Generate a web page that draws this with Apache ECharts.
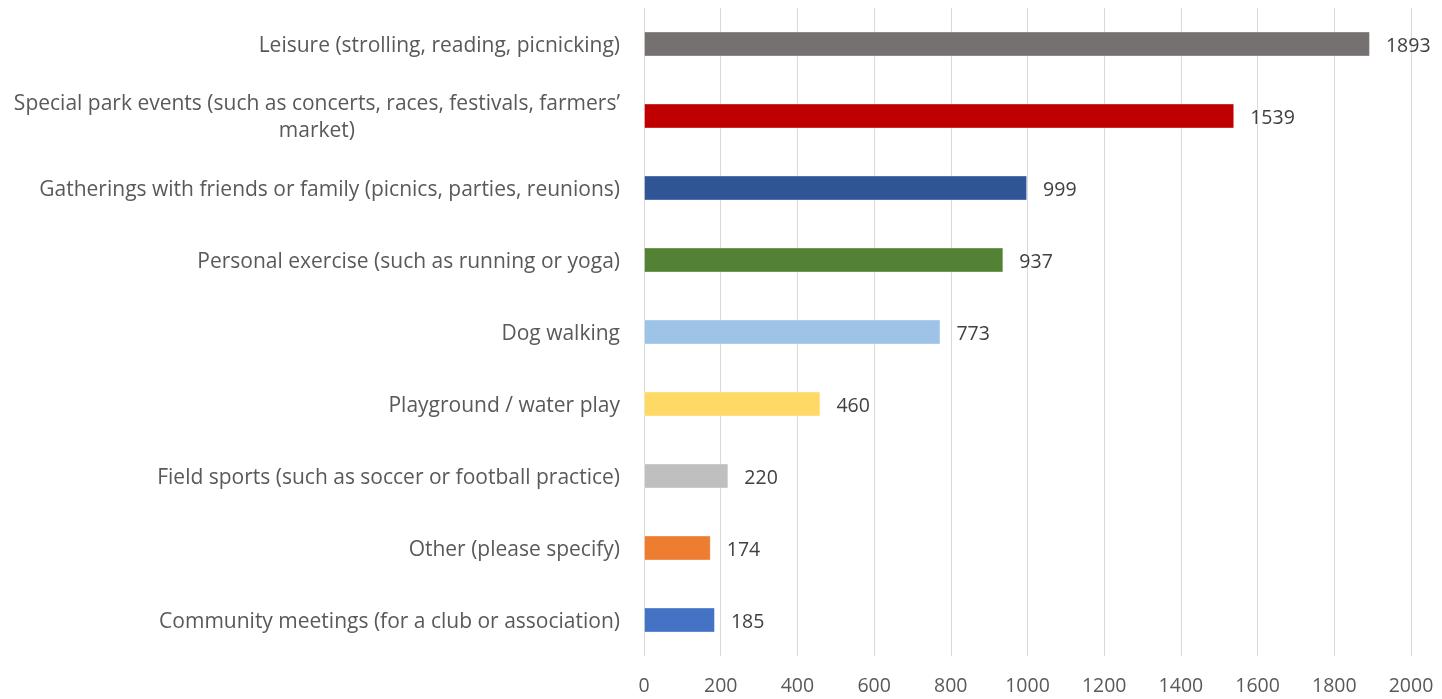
<!DOCTYPE html>
<html><head><meta charset="utf-8">
<script src="https://cdn.jsdelivr.net/npm/echarts@6/dist/echarts.min.js"></script>
<style>html,body{margin:0;padding:0;background:#fff}#c{width:1442px;height:699px}</style>
</head><body><div id="c"></div>
<script>
const categories = [
  'Leisure (strolling, reading, picnicking)',
  'Special park events (such as concerts, races, festivals, farmers’\nmarket)',
  'Gatherings with friends or family (picnics, parties, reunions)',
  'Personal exercise (such as running or yoga)',
  'Dog walking',
  'Playground / water play',
  'Field sports (such as soccer or football practice)',
  'Other (please specify)',
  'Community meetings (for a club or association)'
];
const values = [1893, 1539, 999, 937, 773, 460, 220, 174, 185];
const colors = ['#767171', '#C00000', '#2F5597', '#548235', '#9DC3E6', '#FFD966', '#BFBFBF', '#ED7D31', '#4472C4'];
const xTicks = [0, 200, 400, 600, 800, 1000, 1200, 1400, 1600, 1800, 2000];

const FONT = 'Open Sans';
const FS = 21;
const NS = 19.5;
const chart = echarts.init(document.getElementById('c'));
chart.setOption({
  animation: false,
  grid: {left: 644, right: 31, top: 8, bottom: 43, containLabel: false},
  xAxis: {
    type: 'value', min: xTicks[0], max: xTicks[xTicks.length - 1], interval: 200,
    axisLine: {show: false}, axisTick: {show: false},
    splitLine: {lineStyle: {color: '#d9d9d9', width: 1}},
    axisLabel: {color: '#595959', fontSize: NS, fontFamily: FONT, margin: 20,
      formatter: v => String(v)}
  },
  yAxis: {
    type: 'category', data: categories, inverse: true,
    axisLine: {show: false}, axisTick: {show: false},
    axisLabel: {
      color: '#595959', fontSize: FS, fontFamily: FONT, margin: 24, lineHeight: 27,
      padding: [4, 0, 0, 0],
      formatter: function (v) {
        return v.split('\n').map(s => '{c|' + s + '}').join('\n');
      },
      rich: {c: {align: 'center', color: '#595959', fontSize: FS, fontFamily: FONT, lineHeight: 27}}
    }
  },
  series: [{
    type: 'bar', barWidth: 25,
    data: values.map((v, i) => ({value: v, itemStyle: {color: colors[i]}})),
    itemStyle: {borderColor: 'rgba(255,255,255,0.35)', borderWidth: 1},
    label: {show: true, position: 'right', distance: 16, offset: [0, 2], color: '#404040', fontSize: NS, fontFamily: FONT}
  }]
});
</script></body></html>
